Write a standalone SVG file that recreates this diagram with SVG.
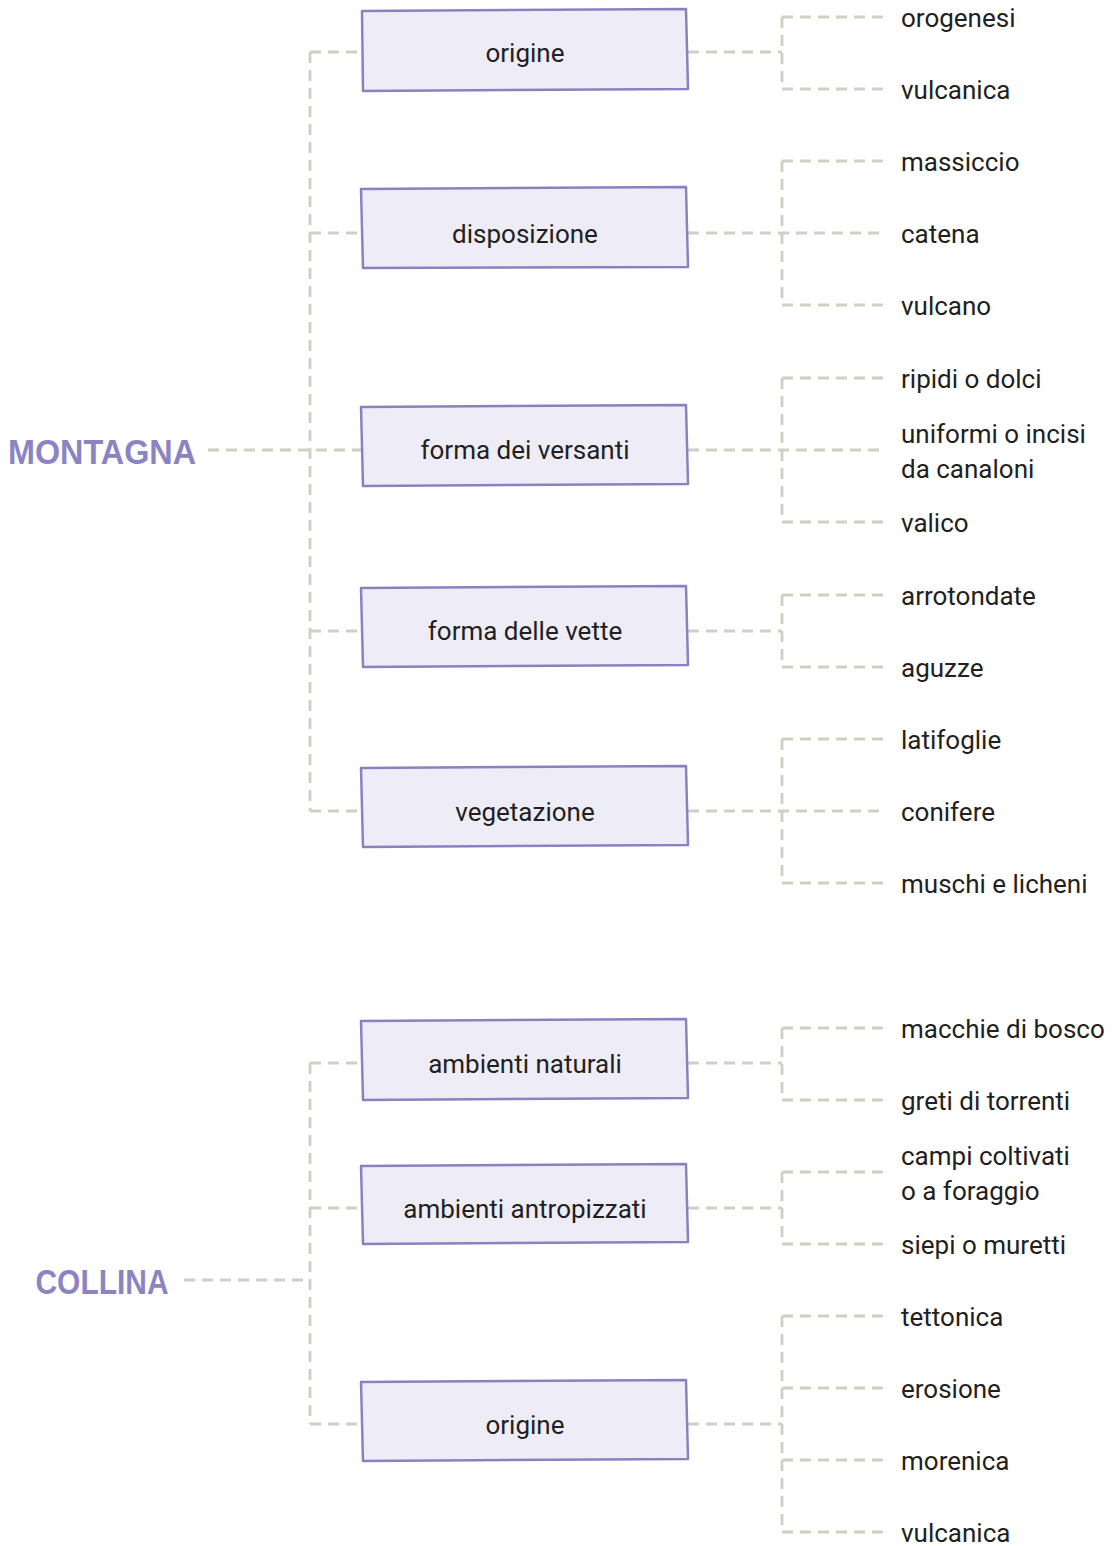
<svg xmlns="http://www.w3.org/2000/svg" width="1116" height="1546" viewBox="0 0 1116 1546">
  <style>
    .link { fill: none; stroke: #d2cec1; stroke-width: 2.8; stroke-dasharray: 11 7; }
    .box { fill: #eeedf7; stroke: #8982c1; stroke-width: 2.5; stroke-linejoin: round; }
    .boxlabel { font-family: Roboto, "Noto Sans", sans-serif; font-size: 26px; fill: #231f20; text-anchor: middle; }
    .leaf { font-family: Roboto, "Noto Sans", sans-serif; font-size: 26px; fill: #231f20; }
    .root { font-family: "Liberation Sans", Arial, sans-serif; font-weight: bold; font-size: 35px; fill: #8b84c3; text-anchor: middle; }
  </style>
  <rect width="1116" height="1546" fill="#ffffff"/>

  <!-- dashed connectors -->
  <g id="connectors">
    <!-- MONTAGNA trunk -->
    <path class="link" d="M208,450 H362"/>
    <path class="link" d="M310,52 V811"/>
    <path class="link" d="M310,52 H362"/>
    <path class="link" d="M310,233 H362"/>
    <path class="link" d="M310,631 H362"/>
    <path class="link" d="M310,811 H362"/>
    <!-- origine -->
    <path class="link" d="M688,52 H782"/>
    <path class="link" d="M782,17 V89"/>
    <path class="link" d="M782,17 H886"/>
    <path class="link" d="M782,89 H886"/>
    <!-- disposizione -->
    <path class="link" d="M688,233 H886"/>
    <path class="link" d="M782,161 V305"/>
    <path class="link" d="M782,161 H886"/>
    <path class="link" d="M782,305 H886"/>
    <!-- forma dei versanti -->
    <path class="link" d="M688,450 H886"/>
    <path class="link" d="M782,378 V522"/>
    <path class="link" d="M782,378 H886"/>
    <path class="link" d="M782,522 H886"/>
    <!-- forma delle vette -->
    <path class="link" d="M688,631 H782"/>
    <path class="link" d="M782,595 V667"/>
    <path class="link" d="M782,595 H886"/>
    <path class="link" d="M782,667 H886"/>
    <!-- vegetazione -->
    <path class="link" d="M688,811 H886"/>
    <path class="link" d="M782,739 V883"/>
    <path class="link" d="M782,739 H886"/>
    <path class="link" d="M782,883 H886"/>

    <!-- COLLINA trunk -->
    <path class="link" d="M184,1280 H310"/>
    <path class="link" d="M310,1063 V1424"/>
    <path class="link" d="M310,1063 H362"/>
    <path class="link" d="M310,1208 H362"/>
    <path class="link" d="M310,1424 H362"/>
    <!-- ambienti naturali -->
    <path class="link" d="M688,1063 H782"/>
    <path class="link" d="M782,1028 V1100"/>
    <path class="link" d="M782,1028 H886"/>
    <path class="link" d="M782,1100 H886"/>
    <!-- ambienti antropizzati -->
    <path class="link" d="M688,1208 H782"/>
    <path class="link" d="M782,1172 V1244"/>
    <path class="link" d="M782,1172 H886"/>
    <path class="link" d="M782,1244 H886"/>
    <!-- origine (collina) -->
    <path class="link" d="M688,1424 H782"/>
    <path class="link" d="M782,1316 V1532"/>
    <path class="link" d="M782,1316 H886"/>
    <path class="link" d="M782,1388 H886"/>
    <path class="link" d="M782,1460 H886"/>
    <path class="link" d="M782,1532 H886"/>
  </g>

  <!-- roots -->
  <g id="montagna">
    <text class="root" x="102" y="464" textLength="188" lengthAdjust="spacingAndGlyphs">MONTAGNA</text>
  </g>
  <g id="collina">
    <text class="root" x="102" y="1294" textLength="133" lengthAdjust="spacingAndGlyphs">COLLINA</text>
  </g>

  <!-- MONTAGNA categories -->
  <g id="m-origine">
    <path class="box" d="M362,11 L686,9 L688,89 L363,91 Z"/>
    <text class="boxlabel" x="525" y="62">origine</text>
  </g>
  <g id="m-disposizione">
    <path class="box" d="M361,189 L686,187 L688,267 L363,268 Z"/>
    <text class="boxlabel" x="525" y="243">disposizione</text>
  </g>
  <g id="m-versanti">
    <path class="box" d="M361,407 L686,405 L688,484 L363,486 Z"/>
    <text class="boxlabel" x="525" y="459">forma dei versanti</text>
  </g>
  <g id="m-vette">
    <path class="box" d="M361,588 L686,586 L688,665 L363,667 Z"/>
    <text class="boxlabel" x="525" y="640">forma delle vette</text>
  </g>
  <g id="m-vegetazione">
    <path class="box" d="M361,768 L686,766 L688,845 L363,847 Z"/>
    <text class="boxlabel" x="525" y="821">vegetazione</text>
  </g>

  <!-- MONTAGNA leaves -->
  <g id="m-leaves">
    <text class="leaf" x="901" y="27">orogenesi</text>
    <text class="leaf" x="901" y="99">vulcanica</text>
    <text class="leaf" x="901" y="171">massiccio</text>
    <text class="leaf" x="901" y="243">catena</text>
    <text class="leaf" x="901" y="315">vulcano</text>
    <text class="leaf" x="901" y="388">ripidi o dolci</text>
    <text class="leaf" x="901" y="443">uniformi o incisi</text>
    <text class="leaf" x="901" y="478">da canaloni</text>
    <text class="leaf" x="901" y="532">valico</text>
    <text class="leaf" x="901" y="605">arrotondate</text>
    <text class="leaf" x="901" y="677">aguzze</text>
    <text class="leaf" x="901" y="749">latifoglie</text>
    <text class="leaf" x="901" y="821">conifere</text>
    <text class="leaf" x="901" y="893">muschi e licheni</text>
  </g>

  <!-- COLLINA categories -->
  <g id="c-naturali">
    <path class="box" d="M361,1021 L686,1019 L688,1098 L363,1100 Z"/>
    <text class="boxlabel" x="525" y="1073">ambienti naturali</text>
  </g>
  <g id="c-antropizzati">
    <path class="box" d="M361,1166 L686,1164 L688,1242 L363,1244 Z"/>
    <text class="boxlabel" x="525" y="1218">ambienti antropizzati</text>
  </g>
  <g id="c-origine">
    <path class="box" d="M361,1382 L686,1380 L688,1459 L363,1461 Z"/>
    <text class="boxlabel" x="525" y="1434">origine</text>
  </g>

  <!-- COLLINA leaves -->
  <g id="c-leaves">
    <text class="leaf" x="901" y="1038">macchie di bosco</text>
    <text class="leaf" x="901" y="1110">greti di torrenti</text>
    <text class="leaf" x="901" y="1165">campi coltivati</text>
    <text class="leaf" x="901" y="1200">o a foraggio</text>
    <text class="leaf" x="901" y="1254">siepi o muretti</text>
    <text class="leaf" x="901" y="1326">tettonica</text>
    <text class="leaf" x="901" y="1398">erosione</text>
    <text class="leaf" x="901" y="1470">morenica</text>
    <text class="leaf" x="901" y="1542">vulcanica</text>
  </g>
</svg>
